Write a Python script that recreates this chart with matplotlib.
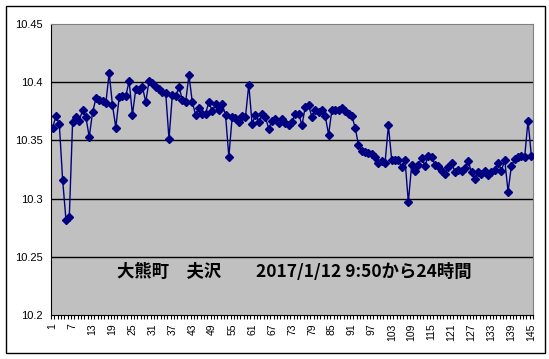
import numpy as np
import matplotlib
matplotlib.use("Agg")
from matplotlib import pyplot as plt
from matplotlib.patches import Rectangle

# 10-minute readings, 2017/1/12 9:50 onwards (uSv/h style values)
values = [
    10.361, 10.371, 10.364, 10.316, 10.282, 10.284, 10.366, 10.370, 10.367, 10.376,
    10.370, 10.353, 10.374, 10.386, 10.385, 10.384, 10.382, 10.408, 10.380, 10.361,
    10.387, 10.388, 10.388, 10.401, 10.372, 10.394, 10.393, 10.396, 10.383, 10.401,
    10.399, 10.396, 10.394, 10.392, 10.391, 10.351, 10.389, 10.388, 10.396, 10.385,
    10.383, 10.406, 10.383, 10.372, 10.378, 10.373, 10.373, 10.383, 10.375, 10.381,
    10.376, 10.381, 10.372, 10.336, 10.370, 10.369, 10.366, 10.371, 10.370, 10.398,
    10.364, 10.372, 10.366, 10.373, 10.370, 10.360, 10.367, 10.368, 10.365, 10.368,
    10.365, 10.363, 10.366, 10.373, 10.373, 10.363, 10.379, 10.380, 10.370, 10.376,
    10.374, 10.376, 10.371, 10.355, 10.376, 10.376, 10.376, 10.378, 10.375, 10.373,
    10.371, 10.361, 10.346, 10.341, 10.340, 10.339, 10.338, 10.336, 10.331, 10.332,
    10.331, 10.363, 10.333, 10.333, 10.333, 10.327, 10.333, 10.297, 10.329, 10.324,
    10.329, 10.335, 10.328, 10.337, 10.336, 10.329, 10.328, 10.324, 10.321, 10.327,
    10.331, 10.323, 10.325, 10.324, 10.326, 10.332, 10.323, 10.317, 10.323, 10.321,
    10.324, 10.320, 10.323, 10.325, 10.331, 10.324, 10.333, 10.306, 10.328, 10.334,
    10.336, 10.337, 10.336, 10.367, 10.337,
]
x_labels = list(range(1, 146, 6))
y_ticks = [10.2, 10.25, 10.3, 10.35, 10.4, 10.45]
y_tick_labels = ["10.2", "10.25", "10.3", "10.35", "10.4", "10.45"]
caption = "大熊町　夫沢　　2017/1/12 9:50から24時間"

x = np.arange(1, len(values) + 1)

fig = plt.figure(figsize=(5.49, 3.59), dpi=100)
fig.patch.set_facecolor("white")

# outer chart frame
fig.patches.append(Rectangle((6 / 549, 6 / 359), 539 / 549, 347 / 359,
                             transform=fig.transFigure, fill=False,
                             edgecolor="black", linewidth=1))

ax1 = fig.add_axes([51 / 549, 44 / 359, 482 / 549, 291 / 359])
ax1.set_facecolor("#C0C0C0")

for y in y_ticks[1:-1]:
    ax1.axhline(y, color="black", linewidth=1, zorder=1)

ax1.plot(x, values, color="#000080", linewidth=1, marker="D", markersize=4.5,
         markerfacecolor="#000080", markeredgecolor="#000080", zorder=3)

ax1.set_xlim(0.5, len(values) + 0.5)
ax1.set_ylim(10.2, 10.45)

ax1.set_yticks(y_ticks)
ax1.set_yticklabels(y_tick_labels, fontsize=8, family="Liberation Sans")
ax1.tick_params(axis="y", length=0, pad=6)

ax1.set_xticks(x_labels)
ax1.set_xticklabels([str(v) for v in x_labels], rotation=90, fontsize=7.5,
                    family="Liberation Sans")
ax1.set_xticks(np.arange(0.5, len(values) + 1, 1), minor=True)
ax1.tick_params(axis="x", which="major", length=0, pad=6)
ax1.tick_params(axis="x", which="minor", length=3, direction="out", width=0.8)

for side in ["top", "right"]:
    ax1.spines[side].set_color("#808080")
for side in ["left", "bottom"]:
    ax1.spines[side].set_color("black")

ax1.text(0.505, 0.147, caption, transform=ax1.transAxes, ha="center", va="center",
         fontsize=12.5, fontweight="bold",
         family=["Noto Sans CJK JP", "DejaVu Sans"])

fig.savefig("out.png", dpi=100)
